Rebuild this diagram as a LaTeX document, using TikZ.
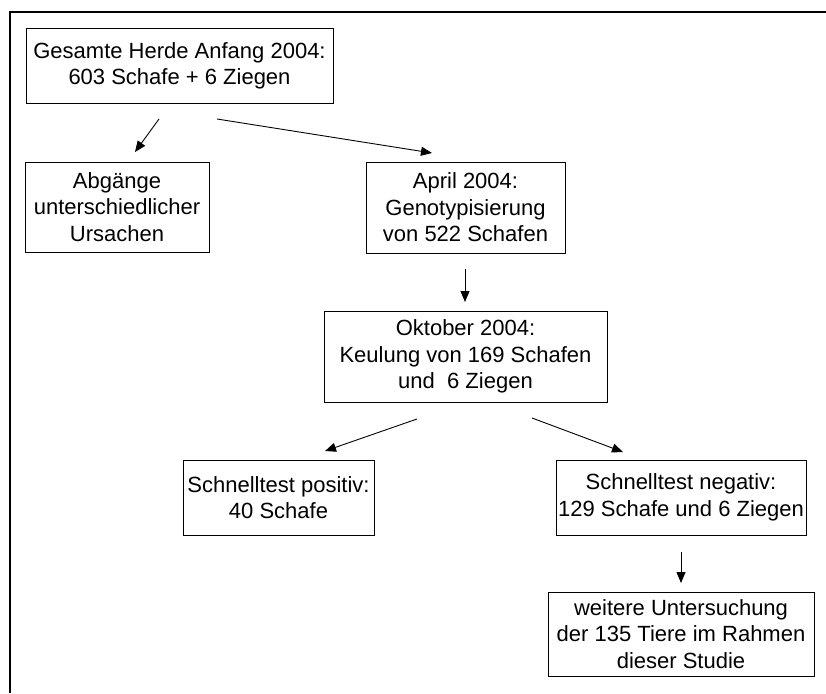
\documentclass[tikz,border=0pt]{standalone}
\usepackage{fontspec}
\setmainfont{Liberation Sans}
\usetikzlibrary{arrows.meta}
\begin{document}
\begin{tikzpicture}[x=1pt,y=-1pt,
  box/.style={draw=black,line width=1pt,align=center,inner sep=0pt,
    font=\fontsize{22}{26.5}\selectfont},
  arr/.style={line width=0.9pt,-{Triangle[length=11pt,width=9pt]}}]
\useasboundingbox (0,0) rectangle (826,693);
\coordinate (fa) at (10,693);
\coordinate (fb) at (10,12);
\coordinate (fc) at (826,12);
\draw[line width=1.3pt] (fa) -- (fb) -- (fc);

\node[box,minimum width=307pt,minimum height=74pt] (herde) at (179.5,66)
  {Gesamte Herde Anfang 2004:\\603 Schafe + 6 Ziegen};
\node[box,minimum width=184pt,minimum height=90pt] (abg) at (117,207)
  {Abgänge\\unterschiedlicher\\Ursachen};
\node[box,minimum width=199pt,minimum height=91pt] (april) at (465.5,207.5)
  {April 2004:\\Genotypisierung\\von 522 Schafen};
\node[box,minimum width=283pt,minimum height=91pt] (okt) at (465.5,356.5)
  {Oktober 2004:\\Keulung von 169 Schafen\\und\ \ 6 Ziegen};
\node[box,minimum width=191pt,minimum height=75pt] (pos) at (278.5,497.5)
  {Schnelltest positiv:\\40 Schafe};
\node[box,minimum width=250pt,minimum height=75pt] (neg) at (681,497.5)
  {Schnelltest negativ:\\129 Schafe und 6 Ziegen};
\node[box,minimum width=266pt,minimum height=84pt] (weit) at (681,634)
  {weitere Untersuchung\\der 135 Tiere im Rahmen\\dieser Studie};

\coordinate (a1s) at (159,119);  \coordinate (a1e) at (135,152);
\coordinate (a2s) at (217,119);  \coordinate (a2e) at (432,153);
\coordinate (a3s) at (465,269);  \coordinate (a3e) at (465,302);
\coordinate (a4s) at (417,419);  \coordinate (a4e) at (325,451);
\coordinate (a5s) at (532,418);  \coordinate (a5e) at (623,452);
\coordinate (a6s) at (681,552);  \coordinate (a6e) at (681,583);
\draw[arr] (a1s) -- (a1e);
\draw[arr] (a2s) -- (a2e);
\draw[arr] (a3s) -- (a3e);
\draw[arr] (a4s) -- (a4e);
\draw[arr] (a5s) -- (a5e);
\draw[arr] (a6s) -- (a6e);
\end{tikzpicture}
\end{document}
